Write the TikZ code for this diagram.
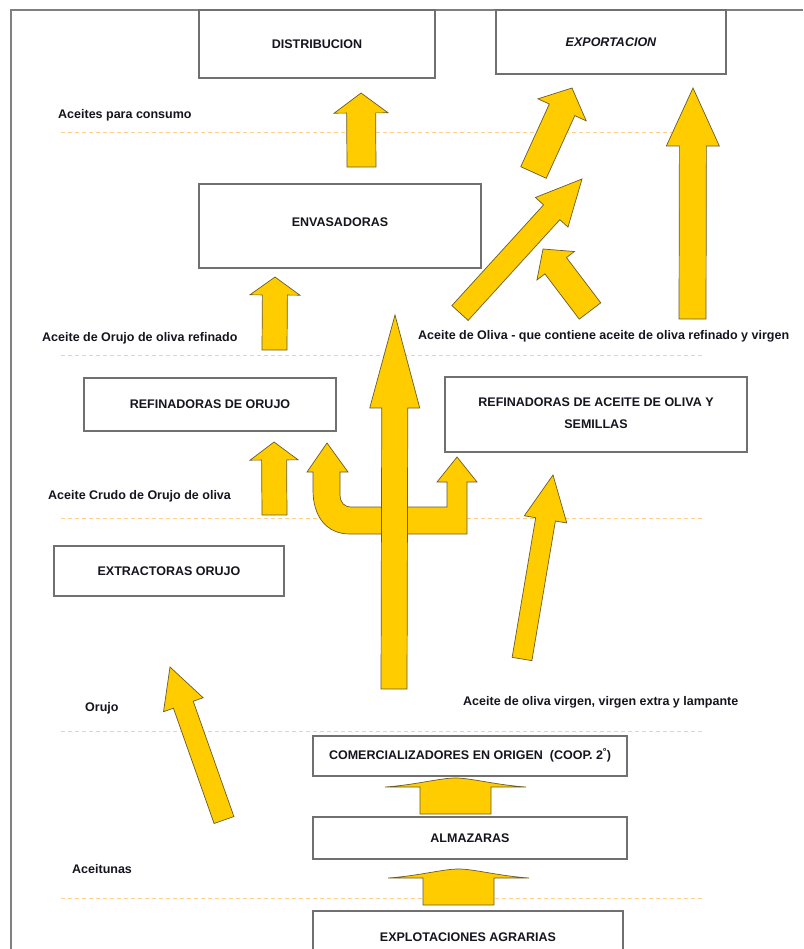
\documentclass[tikz,border=0pt]{standalone}
\usepackage{fontspec}
\setmainfont{Liberation Sans}
\usetikzlibrary{calc}
\definecolor{arrowyellow}{HTML}{FFCC00}
\definecolor{arrowedge}{HTML}{6B5B2A}
\definecolor{boxgray}{HTML}{707070}
\definecolor{dashorange}{HTML}{FFD08A}
\definecolor{txtcol}{HTML}{15151F}
\newcommand{\blockarrow}[5]{%
  \coordinate (ba-s) at (#1);
  \coordinate (ba-t) at (#2);
  \coordinate (ba-h) at ($(ba-t)!#5!(ba-s)$);
  \draw[yarrow] ($(ba-s)!#3!90:(ba-t)$) -- ($(ba-h)!#3!90:(ba-t)$) -- ($(ba-h)!#4!90:(ba-t)$) -- (ba-t) -- ($(ba-h)!#4!-90:(ba-t)$) -- ($(ba-h)!#3!-90:(ba-t)$) -- ($(ba-s)!#3!-90:(ba-t)$) -- cycle;
}
\begin{document}
\begin{tikzpicture}[x=1pt,y=-1pt,
  yarrow/.style={fill=arrowyellow,draw=arrowedge,line width=0.7pt,line join=miter},
  box/.style={draw=boxgray,line width=1.1pt,fill=white,inner sep=0pt,text=txtcol,
    font=\fontsize{12.5pt}{15pt}\selectfont\bfseries,align=center},
  lbl/.style={inner sep=0pt,text=txtcol,font=\fontsize{12.5pt}{15pt}\selectfont\bfseries},
  dashline/.style={draw=dashorange,line width=1pt,dash pattern=on 4pt off 3pt},
  frameline/.style={draw=gray,line width=1.2pt}]
\useasboundingbox (0,0) rectangle (803,949);
\clip (0,0) rectangle (803,949);
\fill[white] (0,0) rectangle (803,949);
% page frame
\draw[frameline] (11,949) -- (11,10) -- (803,10);
% dashed separators
\draw[dashline] (61,133) -- (705,133);
\draw[dashline] (61,355) -- (705,355);
\draw[dashline] (61,518) -- (705,518);
\draw[dashline] (61,731) -- (705,731);
\draw[dashline] (61,898) -- (705,898);
% boxes
\node[box,minimum width=236pt,minimum height=68pt] (dist) at (317,44) {DISTRIBUCION};
\node[box,minimum width=230pt,minimum height=64pt] (expo) at (611,42) {\raisebox{-2pt}{\itshape EXPORTACION}};
\node[box,minimum width=282pt,minimum height=84pt] (env) at (340,226) {\raisebox{8pt}{ENVASADORAS}};
\node[box,minimum width=252pt,minimum height=53pt] (refor) at (210,404.5) {REFINADORAS DE ORUJO};
\node[box,minimum width=302pt,minimum height=75pt] (refac) at (596,414.5) {\raisebox{5pt}{\begin{tabular}{@{}c@{}}REFINADORAS DE ACEITE DE OLIVA Y\\[7pt]SEMILLAS\end{tabular}}};
\node[box,minimum width=230pt,minimum height=50pt] (extr) at (169,571) {\raisebox{-3pt}{EXTRACTORAS ORUJO}};
\node[box,minimum width=314pt,minimum height=40pt] (comer) at (470,756) {\raisebox{4pt}{COMERCIALIZADORES EN ORIGEN\ \ (COOP. 2\textsuperscript{º})}};
\node[box,minimum width=314pt,minimum height=42pt] (alm) at (470,838) {ALMAZARAS};
\node[box,minimum width=310pt,minimum height=60pt] (expl) at (468,941) {\raisebox{8pt}{EXPLOTACIONES AGRARIAS}};
% labels
\node[lbl,anchor=base west] (l1) at (58,118.5) {Aceites para consumo};
\node[lbl,anchor=base west] (l2) at (42,341.5) {Aceite de Orujo de oliva refinado};
\node[lbl,anchor=base west] (l3) at (418,339.5) {Aceite de Oliva - que contiene aceite de oliva refinado y virgen};
\node[lbl,anchor=base west] (l4) at (48,499.5) {Aceite Crudo de Orujo de oliva};
\node[lbl,anchor=base west] (l5) at (85,711.5) {Orujo};
\node[lbl,anchor=base west] (l6) at (463,705.5) {Aceite de oliva virgen, virgen extra y lampante};
\node[lbl,anchor=base west] (l7) at (72,873.5) {Aceitunas};
% arrows
\blockarrow{361.5,167}{361,93}{14.5pt}{27pt}{20pt}
\blockarrow{274.5,350}{275,277}{12.5pt}{25pt}{18pt}
\blockarrow{274.5,515}{274,442}{12.5pt}{24pt}{18pt}
% fork branches
\draw[yarrow] (381,534) -- (350,534) .. controls (326,534) and (313,516) .. (313,490) -- (313,472) -- (307,472) -- (327,443) -- (348,472) -- (340,472) -- (340,494) .. controls (340,503) and (344,507) .. (352,507) -- (447,507) -- (447,482) -- (437,482) -- (457,457) -- (477,482) -- (467,482) -- (467,534) -- cycle;
% central arrow
\blockarrow{394,689}{395,315}{13pt}{25pt}{93pt}
% diagonal arrows
\blockarrow{533.5,172.5}{572,88}{14pt}{26.5pt}{24pt}
\blockarrow{460,313}{582,179}{11pt}{22pt}{45pt}
\blockarrow{590,311}{543,249}{13.5pt}{23.5pt}{21pt}
\blockarrow{692.5,319}{693,88}{13.5pt}{26.5pt}{58pt}
\blockarrow{522,659}{553,475}{10pt}{21.5pt}{45pt}
\blockarrow{224,820}{170,667}{10.5pt}{21pt}{40pt}
% flat arrows
\draw[yarrow] (420,814) -- (420,787) -- (385,787) .. controls (415,785) and (440,778) .. (455.5,778) .. controls (471,778) and (496,785) .. (526,787) -- (491,787) -- (491,814) -- cycle;
\draw[yarrow] (423,905) -- (423,878) -- (388,878) .. controls (418,876) and (443,869) .. (458.5,869) .. controls (474,869) and (499,876) .. (529,878) -- (494,878) -- (494,905) -- cycle;
\end{tikzpicture}
\end{document}
